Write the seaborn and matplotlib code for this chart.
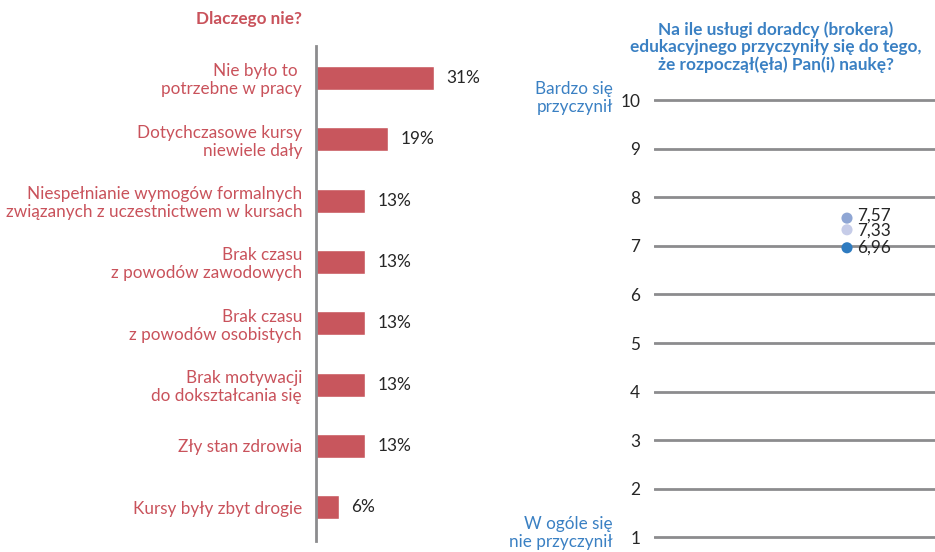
import matplotlib
matplotlib.use("Agg")
import matplotlib.pyplot as plt
import seaborn as sns
import pandas as pd

sns.set_theme(style="white")
plt.rcParams["font.family"] = ["Lato", "DejaVu Sans"]

# Reasons for not taking up training (share of answers, %)
reasons = [
    "Nie było to \npotrzebne w pracy",
    "Dotychczasowe kursy\nniewiele dały",
    "Niespełnianie wymogów formalnych\nzwiązanych z uczestnictwem w kursach",
    "Brak czasu\nz powodów zawodowych",
    "Brak czasu\nz powodów osobistych",
    "Brak motywacji\ndo dokształcania się",
    "Zły stan zdrowia",
    "Kursy były zbyt drogie",
]
shares = [31, 19, 13, 13, 13, 13, 13, 6]

# Mean ratings of the broker's contribution (scale 1-10)
groups = ["A", "B", "C"]
ratings = [7.57, 7.33, 6.96]
rating_colors = ["#8FA6D4", "#C6CCE8", "#2E7BC0"]
scale_ticks = list(range(1, 11))

RED = "#C8565D"
RED_TEXT = "#C9525B"
BLUE_TEXT = "#3A80C3"
GRID = "#8C8C8E"
DARK = "#262626"

FS_LABEL = 12.3
FS_NUM = 12.4

W, H = 935, 552
fig = plt.figure(figsize=(W / 100, H / 100), dpi=100)

# ---- left panel: horizontal bars ----
ax1 = fig.add_axes([316 / W, 1 - 541 / H, 184 / W, 495 / H])
df_bars = pd.DataFrame({"reason": reasons, "share": shares})
sns.barplot(data=df_bars, x="share", y="reason", color=RED, width=0.39,
            saturation=1, ax=ax1)
ax1.set_xlim(0, 184 / (118 / 31))
ax1.set_ylim(len(reasons) - 0.5 + 0.05, -0.5 - 0.02)
ax1.set_xlabel("")
ax1.set_ylabel("")
ax1.set_xticks([])
for s in ["top", "right", "bottom"]:
    ax1.spines[s].set_visible(False)
ax1.spines["left"].set_color(GRID)
ax1.spines["left"].set_linewidth(2)
ax1.tick_params(axis="y", length=0, pad=10)
for lab in ax1.get_yticklabels():
    lab.set_color(RED_TEXT)
    lab.set_fontsize(FS_LABEL)
    lab.set_linespacing(1.14)
for i, v in enumerate(shares):
    ax1.text(v + 3.2, i, f"{v}%", va="center", ha="left",
             fontsize=FS_NUM, color=DARK)
fig.text(249 / W, 1 - 19 / H, "Dlaczego nie?", ha="center", va="center",
         color=RED_TEXT, fontsize=12.3, fontweight="bold")

# ---- right panel: dot chart on a 1-10 scale ----
unit = 48.6
top_px = 100 - 0.2 * unit
bot_px = 537.5 + 0.2 * unit
ax2 = fig.add_axes([654 / W, 1 - bot_px / H, (W - 654) / W, (bot_px - top_px) / H])
df_dots = pd.DataFrame({"group": groups, "rating": ratings, "pos": [0, 0, 0]})
sns.scatterplot(data=df_dots, x="pos", y="rating", hue="group",
                palette=rating_colors, s=64, edgecolor="none",
                legend=False, ax=ax2, zorder=3)
ax2.set_ylim(0.8, 10.2)
ax2.set_xlim(-(847 - 654) / (W - 654), 1 - (847 - 654) / (W - 654))
ax2.set_yticks(scale_ticks)
ax2.set_xticks([])
ax2.set_xlabel("")
ax2.set_ylabel("")
for s in ax2.spines.values():
    s.set_visible(False)
ax2.grid(axis="y", color=GRID, linewidth=2)
ax2.set_axisbelow(True)
ax2.tick_params(axis="y", length=0, pad=10, labelsize=FS_NUM, labelcolor=DARK)
# value labels beside the dots; the two upper ones are close, so spread them a little
label_shift = [2.0, -0.8, 0.0]
for v, dy in zip(ratings, label_shift):
    ax2.annotate(f"{v:.2f}".replace(".", ","), xy=(0, v), xytext=(7, dy),
                 textcoords="offset points", va="center", ha="left",
                 fontsize=FS_NUM, color=DARK, zorder=4)

fig.text(776 / W, 1 - 47 / H,
         "Na ile usługi doradcy (brokera)\nedukacyjnego przyczyniły się do tego,\nże rozpoczął(ęła) Pan(i) naukę?",
         ha="center", va="center", color=BLUE_TEXT, fontsize=12.4,
         fontweight="bold", linespacing=1.08)
fig.text(613 / W, 1 - 98 / H, "Bardzo się\nprzyczynił", ha="right",
         va="center", color=BLUE_TEXT, fontsize=12.3, linespacing=1.12)
fig.text(613 / W, 1 - 533 / H, "W ogóle się\nnie przyczynił", ha="right",
         va="center", color=BLUE_TEXT, fontsize=12.3, linespacing=1.12)

fig.savefig("out.png", dpi=100, facecolor="white")
